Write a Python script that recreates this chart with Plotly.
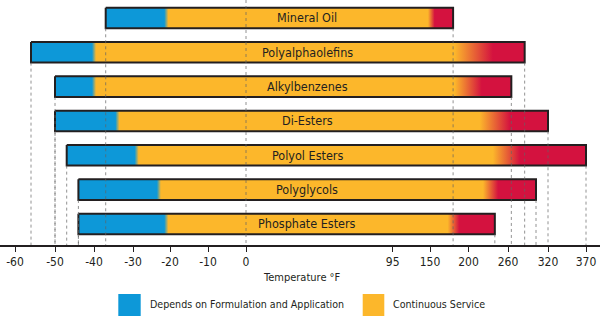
import numpy as np
import plotly.graph_objects as go

# ---------------- data (temperatures in °F) ----------------
fluids = ["Mineral Oil", "Polyalphaolefins", "Alkylbenzenes", "Di-Esters",
          "Polyol Esters", "Polyglycols", "Phosphate Esters"]
low_limit = [-37, -56, -50, -50, -47, -44, -44]          # left end of bar
formulation_end = [-21, -40, -40, -34, -29, -23, -21]    # end of "depends on formulation" (blue)
red_fade_start = [147, 182, 182, 217, 237, 222, 173]     # orange starts fading to red
red_full = [156, 237, 220, 263, 278, 245, 188]           # fully red
high_limit = [180, 285, 265, 320, 370, 302, 240]         # right end of bar

tick_vals = [-60, -50, -40, -30, -20, -10, 0, 95, 150, 200, 260, 320, 370]
tick_text = [str(v) for v in tick_vals]
legend_labels = ["Depends on Formulation and Application", "Continuous Service"]

# ---------------- custom (broken) temperature scale ----------------
# axis position of every labelled temperature (axis spans 0..600)
tick_pos = [15, 55, 94, 133, 170, 208, 246, 392.7, 430, 468.5, 508, 548, 586]


def pos(t):
    return float(np.interp(t, tick_vals, tick_pos))


BLUE = "#0d98d8"
ORANGE = "#fcb72b"
RED = "#d4123f"
INK = "#231f20"
FONT = "DejaVu Sans Condensed, Liberation Sans Narrow, Arial Narrow, sans-serif"

HALF_H = 0.30          # half bar height in row units
Y_TOP = -0.524
Y_BOT = 6.612
BLUR = 2.0             # blue/orange soft edge (axis units)
LABEL_X = 307          # axis position of bar captions

fig = go.Figure()
shapes = []
annotations = []

for i, name in enumerate(fluids):
    L = pos(low_limit[i])
    R = pos(high_limit[i])
    b = pos(formulation_end[i])
    rs = pos(red_fade_start[i])
    re = pos(red_full[i])
    span = R - L

    def f(v):
        return min(max((v - L) / span, 0.0), 1.0)

    cs = [[0.0, BLUE], [f(b - BLUR), BLUE], [f(b + BLUR), ORANGE],
          [f(rs), ORANGE], [f(re), RED], [1.0, RED]]
    fig.add_trace(go.Scatter(
        x=[L, R, R, L, L],
        y=[i - HALF_H, i - HALF_H, i + HALF_H, i + HALF_H, i - HALF_H],
        mode="lines", fill="toself",
        fillgradient=dict(type="horizontal", colorscale=cs),
        line=dict(color=INK, width=2),
        hoverinfo="skip", showlegend=False,
    ))
    annotations.append(dict(x=LABEL_X, y=i, xref="x", yref="y", text=name,
                            showarrow=False, font=dict(family=FONT, size=12.5, color=INK)))
    for v in (low_limit[i], high_limit[i]):
        shapes.append(dict(type="line", xref="x", yref="y", x0=pos(v), x1=pos(v),
                           y0=i + HALF_H, y1=Y_BOT,
                           line=dict(color="rgba(100,100,100,0.7)", width=1, dash="dot"),
                           layer="above"))

# zero reference line
shapes.append(dict(type="line", xref="x", yref="y", x0=pos(0), x1=pos(0),
                   y0=Y_TOP, y1=Y_BOT,
                   line=dict(color="rgba(100,100,100,0.7)", width=1, dash="dot"),
                   layer="above"))

# axis title
PLOT_H = 245.0


def py(ypix):
    return (PLOT_H - ypix) / PLOT_H


annotations.append(dict(x=302 / 600, y=py(277), xref="paper", yref="paper",
                        text="Temperature °F", showarrow=False,
                        font=dict(family=FONT, size=11, color=INK),
                        xanchor="center", yanchor="middle"))

# legend (drawn manually)
legend_items = [(legend_labels[0], BLUE, 118.3, 140.7, 147.7),
                (legend_labels[1], ORANGE, 362.7, 384.3, 391.0)]
for text, col, x0, x1, tx in legend_items:
    shapes.append(dict(type="rect", xref="paper", yref="paper",
                       x0=x0 / 600, x1=x1 / 600, y0=py(294), y1=py(320),
                       fillcolor=col, line=dict(width=0)))
    annotations.append(dict(x=tx / 600, y=py(304), xref="paper", yref="paper",
                            text=text, showarrow=False, xanchor="left", yanchor="middle",
                            font=dict(family=FONT, size=10.6, color=INK)))

fig.update_layout(
    width=600, height=316,
    margin=dict(l=0, r=0, t=0, b=316 - 245),
    paper_bgcolor="white", plot_bgcolor="white",
    showlegend=False,
    shapes=shapes, annotations=annotations,
    xaxis=dict(range=[0, 600], tickmode="array",
               tickvals=[pos(t) for t in tick_vals], ticktext=tick_text,
               showline=True, linewidth=2, linecolor=INK,
               ticks="outside", ticklen=5, tickwidth=1, tickcolor=INK,
               tickfont=dict(family=FONT, size=12, color=INK),
               showgrid=False, zeroline=False, fixedrange=True),
    yaxis=dict(range=[Y_BOT, Y_TOP], visible=False, showgrid=False,
               zeroline=False, fixedrange=True),
)

fig.write_html("out.html", config={"displayModeBar": False})
